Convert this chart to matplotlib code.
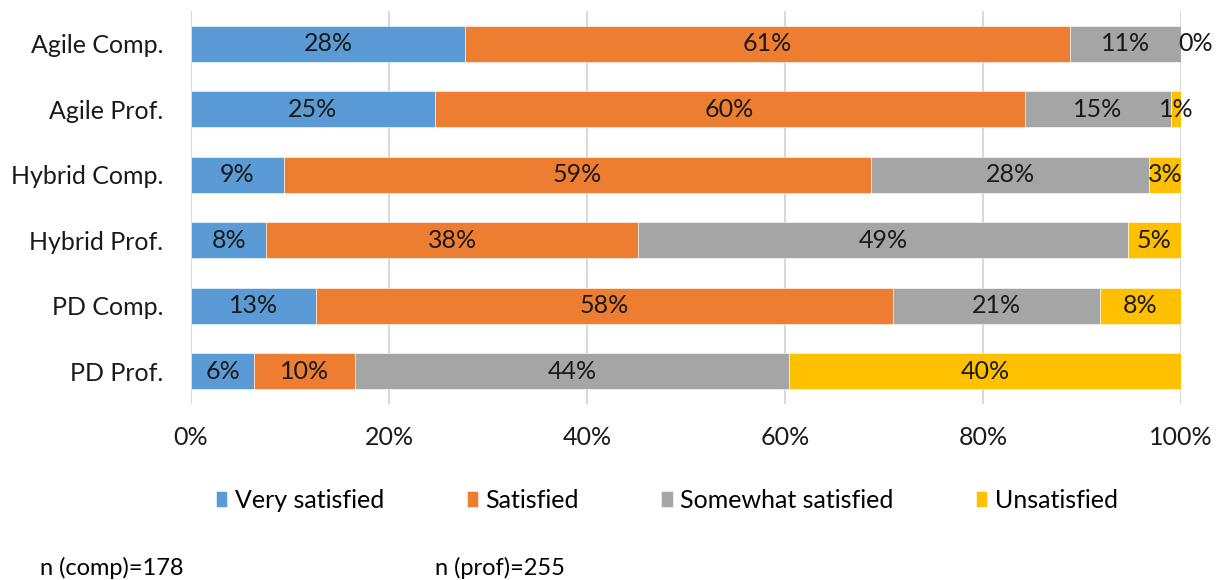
import numpy as np
import matplotlib.pyplot as plt

plt.rcParams['font.family'] = ['Lato', 'DejaVu Sans']

groups = ['Agile Comp.', 'Agile Prof.', 'Hybrid Comp.', 'Hybrid Prof.', 'PD Comp.', 'PD Prof.']
series = ['Very satisfied', 'Satisfied', 'Somewhat satisfied', 'Unsatisfied']
colors = ['#5B9BD5', '#ED7D31', '#A5A5A5', '#FFC000']

very_satisfied = [27.7, 24.6, 9.4, 7.6, 12.6, 6.4]
satisfied = [61.1, 59.6, 59.3, 37.6, 58.3, 10.2]
somewhat_satisfied = [11.2, 14.8, 28.1, 49.4, 20.9, 43.8]
unsatisfied = [0.0, 1.0, 3.2, 5.4, 8.2, 39.6]

data = [very_satisfied, satisfied, somewhat_satisfied, unsatisfied]

fig = plt.figure(figsize=(12.23, 5.8), dpi=100)
ax = fig.add_axes([191 / 1223, 1 - 404 / 580, 990 / 1223, 393 / 580])

y = np.arange(len(groups))[::-1]
left = np.zeros(len(groups))
for vals, name, col in zip(data, series, colors):
    vals = np.array(vals)
    ax.barh(y, vals, left=left, height=0.55, color=col, label=name,
            edgecolor='white', linewidth=0.4, zorder=2)
    for yi, l, v in zip(y, left, vals):
        if v == 0:
            # zero segment label sits just past the bar end
            ax.text(l + v + 1.5, yi, f'{v:.0f}%', ha='center', va='center',
                    fontsize=18, color='#1a1a1a', clip_on=False)
        else:
            ax.text(l + v / 2, yi, f'{v:.0f}%', ha='center', va='center',
                    fontsize=18, color='#1a1a1a')
    left += vals

ax.set_xlim(0, 100)
ax.set_ylim(-0.5, len(groups) - 0.5)
ax.set_yticks(y)
ax.set_yticklabels(groups, fontsize=18)
ax.set_xticks(np.arange(0, 101, 20))
ax.set_xticklabels([f'{t}%' for t in range(0, 101, 20)], fontsize=18)
ax.tick_params(axis='both', length=0, colors='#1a1a1a')
ax.tick_params(axis='x', pad=16)
ax.tick_params(axis='y', pad=20)
ax.grid(axis='x', color='#D9D9D9', linewidth=1.5, zorder=0)
for s in ax.spines.values():
    s.set_visible(False)

fig.legend(loc='center', bbox_to_anchor=(667 / 1223, 1 - 500 / 580), ncol=4,
           frameon=False, fontsize=18, handlelength=0.45, handleheight=0.6,
           handletextpad=0.3, columnspacing=3.3)

fig.text(40 / 1223, 1 - 568 / 580, 'n (comp)=178', fontsize=17, va='center')
fig.text(435 / 1223, 1 - 568 / 580, 'n (prof)=255', fontsize=17, va='center')

fig.savefig('out.png', dpi=100, facecolor='white')
